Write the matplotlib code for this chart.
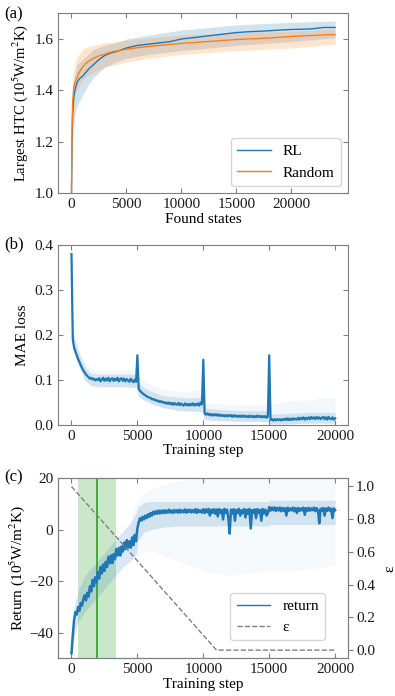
import numpy as np
import matplotlib
matplotlib.use("Agg")
import matplotlib.pyplot as plt
from matplotlib.lines import Line2D

plt.rcParams['font.family'] = ['Liberation Serif', 'DejaVu Serif']
plt.rcParams['mathtext.fontset'] = 'stix'
plt.rcParams['font.size'] = 11

# (a) largest HTC vs found states
states = [0, 50, 100, 200, 300, 500, 700, 1000, 1300, 1600, 2000, 2500, 3000, 3500, 4000,
          5000, 6000, 7000, 8000, 9000, 10000, 11000, 12000, 13000, 14000, 15000, 16000,
          17000, 18000, 19000, 20000, 21000, 22000, 23000, 24000]
htc_rl = [1.0, 1.2, 1.3, 1.37, 1.40, 1.43, 1.445, 1.455, 1.47, 1.485, 1.50, 1.52, 1.535, 1.545, 1.55,
          1.565, 1.575, 1.58, 1.585, 1.59, 1.60, 1.605, 1.61, 1.615, 1.62, 1.625, 1.628,
          1.63, 1.632, 1.635, 1.637, 1.638, 1.64, 1.645, 1.645]
htc_rand = [1.0, 1.25, 1.35, 1.41, 1.43, 1.45, 1.47, 1.49, 1.505, 1.515, 1.525, 1.535, 1.54, 1.548, 1.553,
            1.56, 1.566, 1.571, 1.575, 1.579, 1.583, 1.586, 1.589, 1.592, 1.595, 1.598, 1.600,
            1.602, 1.604, 1.607, 1.610, 1.612, 1.614, 1.616, 1.617]

band_a_x = [0, 100, 300, 500, 1000, 1500, 2000, 3000, 4000, 5000, 7000, 10000, 15000, 20000, 24000]
rl_low = [1.0, 1.2, 1.3, 1.34, 1.38, 1.42, 1.45, 1.49, 1.51, 1.525, 1.54, 1.555, 1.575, 1.59, 1.605]
rl_high = [1.0, 1.4, 1.46, 1.50, 1.52, 1.54, 1.56, 1.575, 1.585, 1.60, 1.615, 1.635, 1.655, 1.665, 1.67]
rand_low = [1.0, 1.25, 1.38, 1.40, 1.44, 1.46, 1.47, 1.49, 1.50, 1.51, 1.525, 1.54, 1.555, 1.565, 1.58]
rand_high = [1.0, 1.45, 1.50, 1.53, 1.56, 1.57, 1.575, 1.585, 1.59, 1.595, 1.605, 1.615, 1.625, 1.63, 1.64]

# (b) MAE loss, one value per 100 training steps
loss = [0.38, 0.19, 0.172, 0.163, 0.155, 0.147, 0.14, 0.133, 0.127, 0.121,
        0.117, 0.112, 0.109, 0.106, 0.103, 0.105, 0.101, 0.103, 0.099, 0.102,
        0.1, 0.104, 0.097, 0.101, 0.105, 0.098, 0.103, 0.099, 0.105, 0.097,
        0.102, 0.104, 0.098, 0.103, 0.099, 0.105, 0.097, 0.102, 0.104, 0.098,
        0.103, 0.097, 0.102, 0.099, 0.096, 0.103, 0.098, 0.095, 0.101, 0.096,
        0.155, 0.08, 0.076, 0.073, 0.07, 0.068, 0.066, 0.064, 0.062, 0.061,
        0.06, 0.057, 0.058, 0.055, 0.056, 0.053, 0.054, 0.051, 0.053, 0.05,
        0.051, 0.048, 0.05, 0.047, 0.05, 0.046, 0.049, 0.045, 0.049, 0.046,
        0.045, 0.049, 0.044, 0.048, 0.045, 0.043, 0.048, 0.044, 0.047, 0.043,
        0.047, 0.044, 0.048, 0.043, 0.047, 0.044, 0.048, 0.043, 0.05, 0.046,
        0.145, 0.026, 0.023, 0.026, 0.022, 0.025, 0.021, 0.024, 0.021, 0.024,
        0.021, 0.024, 0.02, 0.023, 0.02, 0.022, 0.019, 0.022, 0.019, 0.022,
        0.02, 0.022, 0.018, 0.022, 0.019, 0.021, 0.018, 0.021, 0.018, 0.021,
        0.018, 0.021, 0.018, 0.02, 0.017, 0.021, 0.018, 0.02, 0.017, 0.02,
        0.017, 0.021, 0.018, 0.02, 0.017, 0.02, 0.017, 0.02, 0.016, 0.019,
        0.155, 0.011, 0.013, 0.01, 0.013, 0.01, 0.013, 0.011, 0.013, 0.01,
        0.013, 0.011, 0.014, 0.011, 0.015, 0.011, 0.014, 0.011, 0.015, 0.012,
        0.014, 0.012, 0.016, 0.012, 0.016, 0.013, 0.017, 0.012, 0.016, 0.013,
        0.017, 0.013, 0.018, 0.014, 0.017, 0.013, 0.018, 0.014, 0.017, 0.013,
        0.016, 0.018, 0.013, 0.017, 0.012, 0.018, 0.014, 0.013, 0.017, 0.012,
        0.015]
band_b_x = [0, 100, 300, 500, 1000, 1500, 2000, 3000, 4000, 4950, 5050, 5500, 6000, 7000, 8000,
            9000, 9950, 10050, 11000, 12000, 13000, 14000, 14950, 15050, 16000, 17000, 18000, 19000, 20000]
loss_low = [0.30, 0.17, 0.15, 0.135, 0.1, 0.088, 0.085, 0.085, 0.085, 0.083, 0.065, 0.055, 0.048, 0.038, 0.033,
            0.031, 0.030, 0.012, 0.01, 0.009, 0.008, 0.008, 0.007, 0.002, 0.002, 0.003, 0.004, 0.004, 0.004]
loss_high = [0.38, 0.21, 0.185, 0.165, 0.13, 0.115, 0.113, 0.113, 0.113, 0.113, 0.095, 0.083, 0.075, 0.065, 0.062,
             0.06, 0.062, 0.038, 0.035, 0.033, 0.032, 0.032, 0.032, 0.025, 0.025, 0.027, 0.028, 0.028, 0.028]
loss_faint = [0.38, 0.21, 0.19, 0.17, 0.14, 0.125, 0.122, 0.122, 0.122, 0.125, 0.11, 0.1, 0.09, 0.08, 0.075,
              0.075, 0.08, 0.05, 0.048, 0.045, 0.045, 0.045, 0.045, 0.045, 0.05, 0.055, 0.055, 0.06, 0.06]

# (c) return, one value per 100 training steps
ret = [-48, -41, -35, -32, -33, -30, -31.5, -28.5, -29.5, -27,
       -25.5, -27.5, -24.5, -26, -22, -24, -19.5, -22, -18.5, -20.5,
       -16.5, -19, -14.5, -17, -13.5, -16, -12.5, -14.5, -10.5, -13,
       -10, -13, -9.5, -11.5, -7.5, -10, -7, -10, -6.5, -8.5,
       -5, -7.5, -4, -7, -4.5, -7, -3, -6, -2, -4.5,
       0.5, 3, 4.5, 3.5, 5, 4, 5.5, 4.5, 6, 5,
       6.5, 5.5, 7, 6, 7.2, 6.2, 7.5, 6.3, 7.4, 6.5,
       7.6, 6.5, 7.5, 6.6, 7.8, 6.7, 7.5, 6.5, 7.7, 6.8,
       7.6, 6.6, 7.8, 6.7, 7.5, 6.8, 7.9, 6.6, 7.7, 6.9,
       7.8, 6.7, 7.6, 6.8, 8, 6.5, 7.8, 6.9, 7.5, 6.6,
       8, 6.5, 7.9, 6.8, 8.1, 5.5, 7.8, 6.6, 8, 6.2,
       7.9, 5.2, 8, 6.5, 7.7, 4, 8.1, 6.6, 7.8, 4.5,
       -1.5, 7.8, 6.3, 8, 3.5, 7.7, 6.5, 8.1, 5.5, 7.6,
       6.4, 8, 4.8, 7.8, 6.2, 8.1, 0.5, 7.6, 6.5, 7.9,
       4.5, 8, 6.6, 7.7, 3.5, 8.1, 6.3, 7.8, 5.5, 6.5,
       8.8, 7.4, 8.6, 7.6, 8.7, 7.3, 8.5, 7.5, 8.6, 7.2,
       8.5, 7.3, 8.4, 5.5, 8.6, 7.4, 8.3, 7.5, 8.6, 7.2,
       8.4, 6.5, 8.5, 7.3, 8.3, 7.5, 8.6, 5.8, 8.4, 7.3,
       8.5, 7.4, 8.3, 7.6, 8.6, 7.2, 8.4, 7.5, 2.5, 8.2,
       7.4, 8.5, 5.5, 8.3, 7.3, 8.6, 7.4, 8.2, 4.5, 8.3,
       7.6]
band_c_x = [0, 200, 500, 1000, 1500, 2000, 2500, 3000, 3500, 4000, 4500, 4950, 5050, 5500, 6000,
            7000, 8000, 10000, 12000, 14950, 15050, 17000, 20000]
ret_low = [-50, -42, -36, -32, -29, -26, -23, -20, -17, -14, -12, -9, -4, -1, 0,
           1, 1.5, 1.5, 1.5, 1.5, 2, 2, 2]
ret_high = [-45, -30, -24, -18, -15, -12, -9, -6, -3, 0, 3, 7, 9, 10.5, 11,
            11, 11, 11, 11, 11, 11.5, 11.5, 11.5]
faint_c_x = [4500, 5000, 6000, 8000, 10000, 12000, 15000, 17000, 20000]
faint_low = [-12, -10, -8, -12, -16, -18, -16, -16, -14]
faint_high = [5, 12, 16, 19, 20, 20, 20, 20, 20]

eps_x = [0, 11000, 20000]
eps_y = [1.0, 0.0, 0.0]
best_lo, best_hi, best_step = 500, 3350, 1900

steps = np.arange(0, 20001, 100)

spine_col = '#7f7f7f'
blue = '#1f77b4'
orange = '#ff7f0e'


def style(ax, right=True):
    for s in ax.spines.values():
        s.set_color(spine_col)
    ax.tick_params(direction='in', top=True, right=right, color=spine_col, labelcolor='#1a1a1a')


fig = plt.figure(figsize=(3.95, 6.96), dpi=100)
W, H = 395, 696


def add_ax(top_px):
    return fig.add_axes([58.3 / W, 1 - (top_px + 180) / H, 290 / W, 180 / H])


# ---- (a)
ax1 = add_ax(13.3)
ax1.fill_between(band_a_x, rl_low, rl_high, color=blue, alpha=0.2, lw=0)
ax1.fill_between(band_a_x, rand_low, rand_high, color=orange, alpha=0.2, lw=0)
ax1.plot(states, htc_rl, color=blue, lw=1, label='RL')
ax1.plot(states, htc_rand, color=orange, lw=1, label='Random')
ax1.set_ylim(1.0, 1.7)
ax1.set_yticks([1.0, 1.2, 1.4, 1.6])
ax1.set_xticks([0, 5000, 10000, 15000, 20000])
ax1.set_xlabel('Found states', labelpad=1)
ax1.set_ylabel('Largest HTC (10$^5$W/m$^2$K)', labelpad=3, fontsize=10.5)
ax1.legend(loc='lower right', handlelength=2.2)
style(ax1)

# ---- (b)
ax2 = add_ax(245)
ax2.fill_between(band_b_x, loss_low, loss_faint, color=blue, alpha=0.06, lw=0)
ax2.fill_between(band_b_x, loss_low, loss_high, color=blue, alpha=0.15, lw=0)
ax2.plot(steps, loss, color=blue, lw=1.6)
ax2.set_ylim(0, 0.4)
ax2.set_yticks([0.0, 0.1, 0.2, 0.3, 0.4])
ax2.set_xticks([0, 5000, 10000, 15000, 20000])
ax2.set_xlabel('Training step', labelpad=1)
ax2.set_ylabel('MAE loss')
style(ax2)

# ---- (c)
ax3 = add_ax(478.3)
ax3.axvspan(best_lo, best_hi, color='#2ca02c', alpha=0.25, lw=0)
ax3.axvline(best_step, color='#2ca02c', lw=1.2)
ax3.fill_between(faint_c_x, faint_low, faint_high, color=blue, alpha=0.045, lw=0)
ax3.fill_between(band_c_x, ret_low, ret_high, color=blue, alpha=0.17, lw=0)
ax3.plot(steps, ret, color=blue, lw=1.8)
ax3.set_ylim(-50, 20)
ax3.set_yticks([-40, -20, 0, 20])
ax3.set_xticks([0, 5000, 10000, 15000, 20000])
ax3.set_xlabel('Training step', labelpad=1)
ax3.set_ylabel('Return (10$^5$W/m$^2$K)', labelpad=2)
style(ax3, right=False)

ax4 = ax3.twinx()
ax4.plot(eps_x, eps_y, color='#808080', lw=1, ls='--')
ax4.set_ylim(-0.05, 1.05)
ax4.set_yticks([0.0, 0.2, 0.4, 0.6, 0.8, 1.0])
ax4.set_ylabel('ε', labelpad=6)
for s in ax4.spines.values():
    s.set_color(spine_col)
ax4.tick_params(color=spine_col, labelcolor='#1a1a1a', pad=2)
handles = [Line2D([], [], color=blue, lw=1), Line2D([], [], color='#808080', lw=1, ls='--')]
ax4.legend(handles, ['return', 'ε'], loc='lower right',
           bbox_to_anchor=(0.92, 0.10), borderaxespad=0, handlelength=2.2)

fig.text(4 / W, 1 - 6 / H, '(a)', ha='left', va='top', fontsize=12)
fig.text(4 / W, 1 - 236 / H, '(b)', ha='left', va='top', fontsize=12)
fig.text(4 / W, 1 - 469 / H, '(c)', ha='left', va='top', fontsize=12)

fig.savefig('out.png', dpi=100)
